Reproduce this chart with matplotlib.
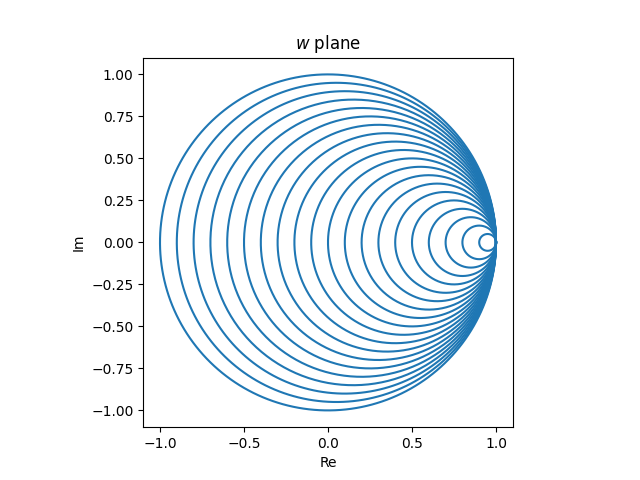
import numpy as np
import matplotlib
matplotlib.use("Agg")
import matplotlib.pyplot as plt

# left edge of each circle on the real axis; every circle passes through (1, 0)
left_edges = [-1.0, -0.9, -0.8, -0.7, -0.6, -0.5, -0.4, -0.3, -0.2, -0.1,
              0.0, 0.1, 0.2, 0.3, 0.4, 0.5, 0.6, 0.7, 0.8, 0.9]
right_edge = 1.0

fig, ax = plt.subplots(figsize=(6.4, 4.8), dpi=100)
theta = np.linspace(0, 2 * np.pi, 400)
for a in left_edges:
    c = (a + right_edge) / 2
    r = (right_edge - a) / 2
    ax.plot(c + r * np.cos(theta), r * np.sin(theta), color="C0")

ax.set_aspect("equal")
ax.set_title("$w$ plane")
ax.set_xlabel("Re")
ax.set_ylabel("Im")
fig.savefig("out.png")
